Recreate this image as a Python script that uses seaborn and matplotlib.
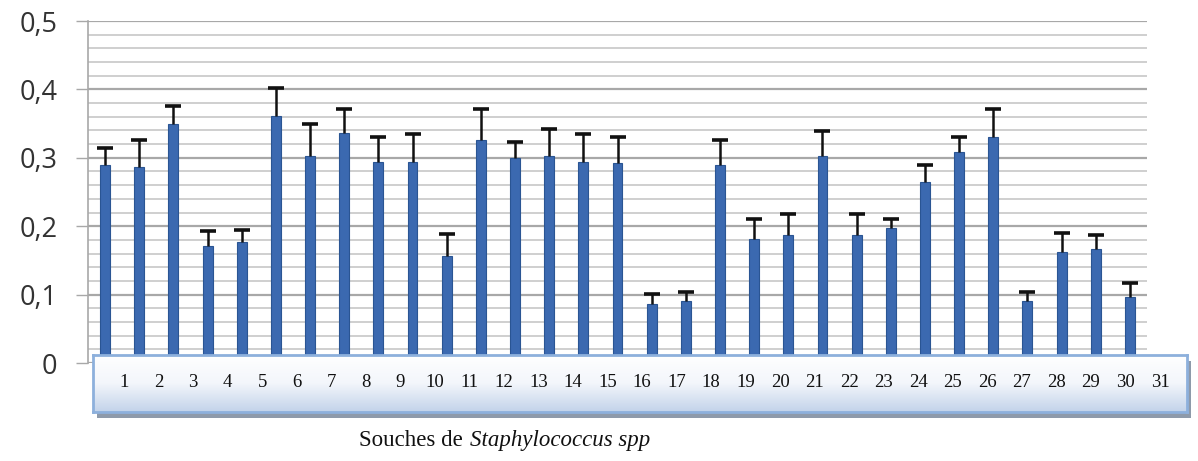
import numpy as np
import pandas as pd
import matplotlib
matplotlib.use("Agg")
import matplotlib.pyplot as plt
import seaborn as sns
from matplotlib.patches import Rectangle
from matplotlib.colors import LinearSegmentedColormap

# ---- data ----
strains = [str(i) for i in range(1, 32)]
values = [0.289, 0.287, 0.350, 0.171, 0.177, 0.361, 0.303, 0.336, 0.294, 0.294,
          0.156, 0.326, 0.300, 0.303, 0.294, 0.293, 0.086, 0.090, 0.289, 0.181,
          0.187, 0.303, 0.187, 0.197, 0.264, 0.309, 0.331, 0.090, 0.163, 0.166,
          0.096]
err_up = [0.026, 0.039, 0.025, 0.022, 0.018, 0.041, 0.046, 0.035, 0.037, 0.041,
          0.033, 0.046, 0.023, 0.039, 0.041, 0.038, 0.015, 0.014, 0.037, 0.030,
          0.031, 0.036, 0.031, 0.014, 0.026, 0.022, 0.041, 0.014, 0.027, 0.021,
          0.021]
ytick_vals = [0, 0.1, 0.2, 0.3, 0.4, 0.5]
ytick_labels = ["0", "0,1", "0,2", "0,3", "0,4", "0,5"]
box_labels = [str(i) for i in range(1, 32)]

df = pd.DataFrame({"strain": strains, "value": values})

sns.set_theme(style="white")
W, H = 1198, 461
fig = plt.figure(figsize=(W / 100, H / 100), dpi=100)
ax = fig.add_axes([88 / W, 1 - 363 / H, (1147 - 88) / W, (363 - 21) / H])

# gridlines
for y in np.arange(0, 0.5001, 0.02):
    major = abs(round(y * 10) - y * 10) < 1e-6
    ax.axhline(y, color="#a8a8a8" if major else "#cfcfcf",
               lw=1.6 if major else 1.4, zorder=0)

sns.barplot(data=df, x="strain", y="value", ax=ax, color="#3b69b0",
            width=0.29, errorbar=None, saturation=1, zorder=2,
            edgecolor="#2a5593", linewidth=0.8)
xs = np.arange(len(values))
tops = np.array(values) + np.array(err_up)
ax.vlines(xs, values, tops, color="#111111", lw=1.8, zorder=3)
ax.plot(xs, tops, ls="none", marker="_", markersize=12, mew=2.6,
        color="#111111", zorder=3)

ax.set_xlim(-0.5, len(values) - 0.5)
ax.set_ylim(0, 0.5)
ax.set_yticks(ytick_vals)
ax.set_yticklabels(ytick_labels, fontsize=19.5, color="#333333", family="Open Sans")
ax.tick_params(axis="y", length=9, width=1, color="#a8a8a8", pad=13, left=True)
ax.set_xticks([])
ax.set_xlabel("")
ax.set_ylabel("")
for s in ["top", "right", "bottom"]:
    ax.spines[s].set_visible(False)
ax.spines["left"].set_color("#a8a8a8")
ax.spines["left"].set_linewidth(1.2)

# label box with shadow
bx0, bx1, by0, by1 = 93, 1187, 355, 412
shadow = fig.add_axes([(bx0 + 4) / W, 1 - (by1 + 6) / H, (bx1 - bx0) / W, (by1 - by0) / H])
shadow.add_patch(Rectangle((0, 0), 1, 1, color="#8e9aaa", transform=shadow.transAxes))
shadow.set_axis_off()

box = fig.add_axes([bx0 / W, 1 - by1 / H, (bx1 - bx0) / W, (by1 - by0) / H])
grad = np.linspace(0, 1, 100).reshape(-1, 1)
cmap = LinearSegmentedColormap.from_list("g", ["#ffffff", "#f3f6fb", "#c3d3ea"])
box.imshow(grad, aspect="auto", cmap=cmap, extent=[0, 1, 0, 1], origin="upper")
box.set_xlim(0, 1)
box.set_ylim(0, 1)
box.set_xticks([])
box.set_yticks([])
for s in box.spines.values():
    s.set_color("#8db0dc")
    s.set_linewidth(2)
lx = np.linspace((124 - bx0) / (bx1 - bx0), (1160 - bx0) / (bx1 - bx0), len(box_labels))
for x, lab in zip(lx, box_labels):
    box.text(x, 0.52, lab, ha="center", va="center", fontsize=13.5,
             family="Liberation Serif", color="#111111")

# axis title
fig.text(463 / W, 1 - 440 / H, "Souches de", ha="right", va="center",
         fontsize=16.5, family="Liberation Serif", color="#111111")
fig.text(470 / W, 1 - 440 / H, "Staphylococcus spp", ha="left", va="center",
         fontsize=16.5, family="Liberation Serif", style="italic", color="#111111")

fig.savefig("out.png", dpi=100)
